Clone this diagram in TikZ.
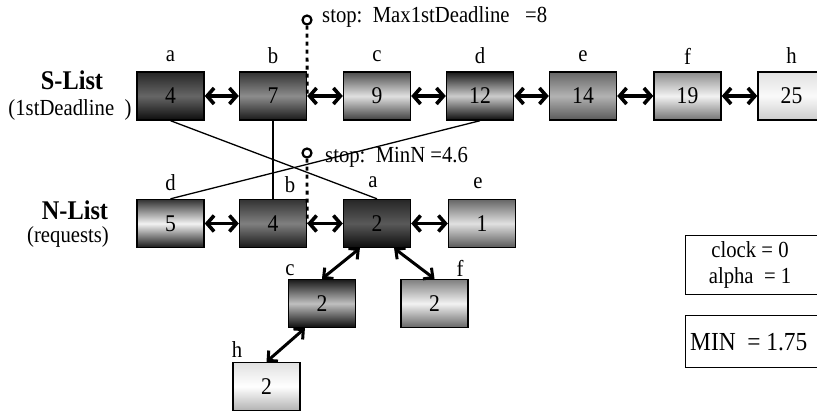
\documentclass[tikz,border=0pt]{standalone}
\usepackage{fontspec}
\setmainfont[FakeStretch=0.9]{Liberation Serif}
\usetikzlibrary{arrows.meta,calc}
\begin{document}
\begin{tikzpicture}[x=1pt,y=-1pt,
  txt/.style={font=\fontsize{23}{26}\selectfont, inner sep=0pt},
  cell/.style={draw=black, line width=1.4pt, minimum width=67pt, minimum height=48pt,
    inner sep=0pt, font=\fontsize{24}{26}\selectfont},
  sh/.style n args={3}{top color=#1, bottom color=#3, middle color=#2},
  lnk/.style={line width=3.6pt, {Straight Barb[length=7pt,width=16pt]}-{Straight Barb[length=7pt,width=16pt]}},
  dlnk/.style={line width=3pt, {Straight Barb[length=7pt,width=14pt]}-{Straight Barb[length=7pt,width=14pt]}},
  thin/.style={line width=1.3pt},
  stopline/.style={line width=2.8pt, dash pattern=on 4pt off 4pt},
  stopmark/.style={circle, draw, line width=2.2pt, minimum size=9pt, inner sep=0pt},
  infobox/.style={draw, line width=1.3pt}
]
\useasboundingbox (0,0) rectangle (817,418);
\clip (0,0) rectangle (817,418);

% S-List
\node[cell, sh={black!85}{black!60}{black!95}] (Sa) at (170.5,96) {4};
\node[cell, sh={black!80}{black!45}{black!90}] (Sb) at (273,96) {7};
\node[cell, sh={black!70}{black!12}{black!75}] (Sc) at (377,96) {9};
\node[cell, sh={black!90}{black!20}{black!95}] (Sd) at (480,96) {12};
\node[cell, sh={black!60}{black!30}{black!65}] (Se) at (583,96) {14};
\node[cell, sh={black!45}{black!5}{black!55}] (Sf) at (687.5,96) {19};
\node[cell, sh={black!12}{black!2}{black!20}] (Sh) at (791.5,96) {25};

\node[txt] (la) at (170.5,56) {a};
\node[txt] (lb) at (273,56) {b};
\node[txt] (lc) at (377,56) {c};
\node[txt] (ld) at (480,56) {d};
\node[txt] (le) at (583,56) {e};
\node[txt] (lf) at (687.5,56) {f};
\node[txt] (lh) at (791.5,56) {h};

\node[font=\fontsize{27}{29}\selectfont\bfseries, inner sep=0pt] (slist) at (72,80) {S-List};
\node[txt] (sdl) at (70,110) {(1stDeadline\ \ )};

% N-List
\node[cell, sh={black!80}{black!5}{black!90}] (Nd) at (170.5,223.5) {5};
\node[cell, sh={black!80}{black!50}{black!90}] (Nb) at (273,223.5) {4};
\node[cell, sh={black!85}{black!65}{black!95}] (Na) at (377,223.5) {2};
\node[cell, sh={black!60}{black!12}{black!65}] (Ne) at (482,223.5) {1};
\node[cell, sh={black!90}{black!25}{black!95}] (Nc) at (322,303.5) {2};
\node[cell, sh={black!50}{black!5}{black!60}] (Nf) at (434.5,303.5) {2};
\node[cell, sh={black!12}{black!0}{black!30}] (Nh) at (266.5,386.5) {2};

\node[txt] (nld) at (170.5,183) {d};
\node[txt] (nlb) at (290,185) {b};
\node[txt] (nla) at (373,182) {a};
\node[txt] (nle) at (478,183) {e};
\node[txt] (nlc) at (290,270) {c};
\node[txt] (nlf) at (460,268) {f};
\node[txt] (nlh) at (237,350) {h};

\node[font=\fontsize{27}{29}\selectfont\bfseries, inner sep=0pt] (nlist) at (75,210) {N-List};
\node[txt] (nreq) at (68,237) {(requests)};

% links S-List
\draw[lnk] (Sa.east) -- (Sb.west);
\draw[lnk] (Sb.east) -- (Sc.west);
\draw[lnk] (Sc.east) -- (Sd.west);
\draw[lnk] (Sd.east) -- (Se.west);
\draw[lnk] (Se.east) -- (Sf.west);
\draw[lnk] (Sf.east) -- (Sh.west);

% links N-List
\draw[lnk] (Nd.east) -- (Nb.west);
\draw[lnk] (Nb.east) -- (Na.west);
\draw[lnk] (Na.east) -- (Ne.west);
\draw[dlnk] ($(Na.south west)!0.25!(Na.south east)$) -- (Nc.north);
\draw[dlnk] ($(Na.south west)!0.75!(Na.south east)$) -- (Nf.north);
\draw[dlnk] ($(Nc.south west)!0.25!(Nc.south east)$) -- (Nh.north);

% cross lines
\draw[thin] (Sa.south) -- (Na.north);
\draw[thin] (Sb.south) -- (Nb.north);
\draw[thin] (Sd.south) -- (Nd.north);

% stop markers
\node[stopmark] (stop1) at (307,20) {};
\coordinate (stop1end) at (Sb.east);
\draw[stopline] (stop1.south) -- (stop1end);
\node[txt, anchor=west] (stop1t) at (322,17) {stop:\ \ Max1stDeadline\ \ \ =8};

\node[stopmark] (stop2) at (307,153) {};
\coordinate (stop2end) at (Nb.east);
\draw[stopline] (stop2.south) -- (stop2end);
\node[txt, anchor=west] (stop2t) at (325,157) {stop:\ \ MinN =4.6};

% info boxes
\node[infobox, minimum width=150pt, minimum height=59pt, anchor=north west] (clk) at (685,235) {};
\node[txt] (clkt) at (750,250) {clock = 0};
\node[txt] (alph) at (750,278) {alpha\ \ = 1};
\node[infobox, minimum width=150pt, minimum height=52pt, anchor=north west] (minb) at (685,315) {};
\node[font=\fontsize{26}{28}\selectfont, inner sep=0pt, anchor=west] (mint) at (690,342) {MIN\ \ = 1.75};
\end{tikzpicture}
\end{document}
